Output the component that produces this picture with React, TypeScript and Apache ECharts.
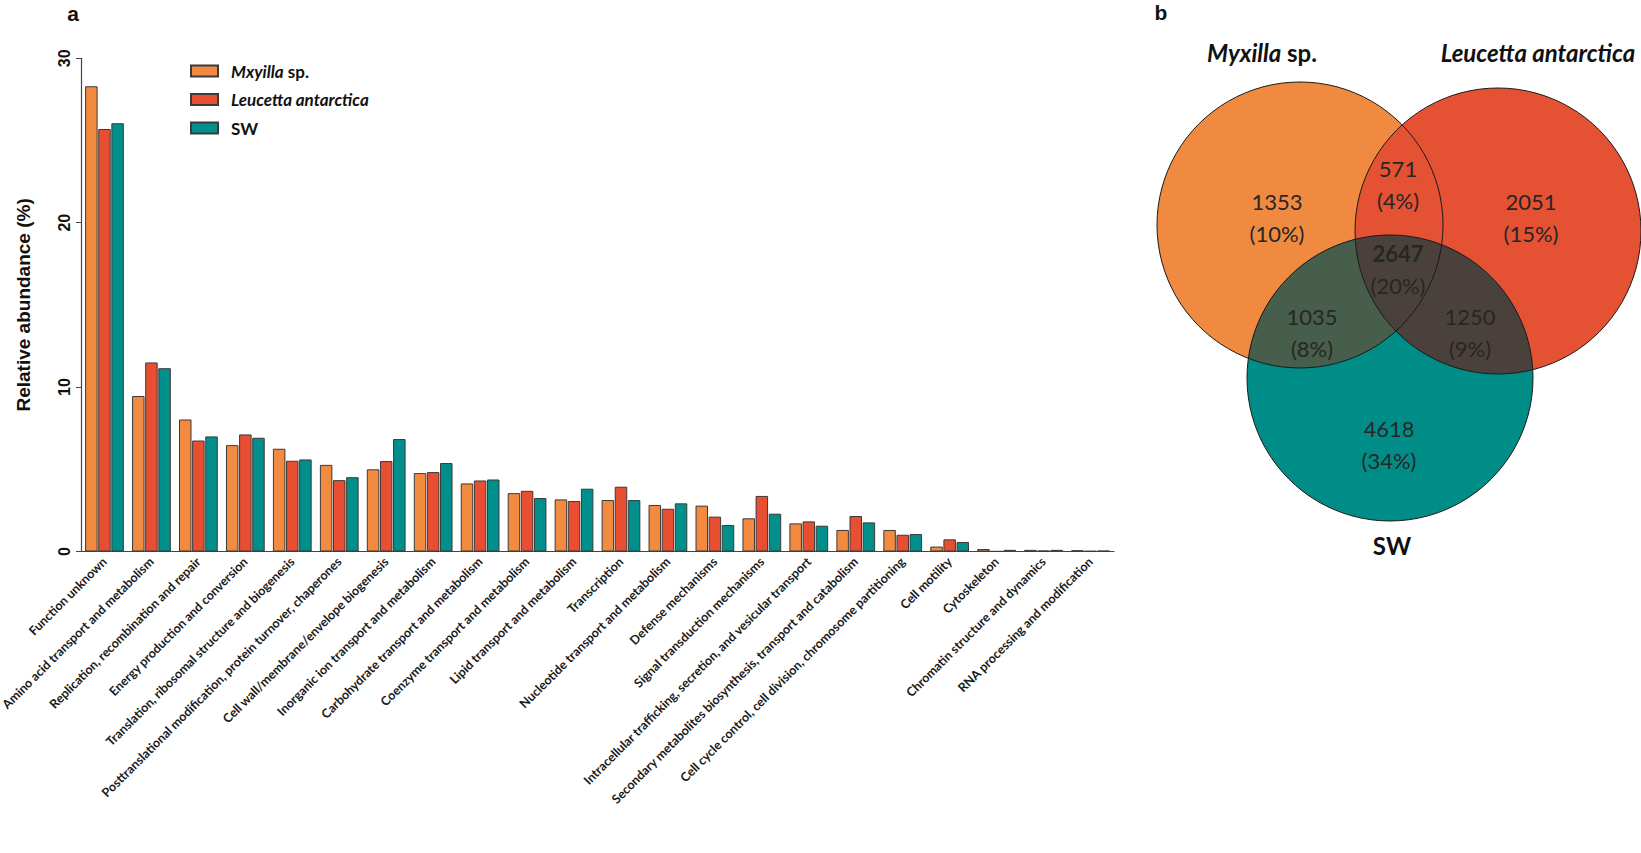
import React, { useEffect, useRef } from 'react';
import * as echarts from 'echarts';

// ---------- data ----------
const categories = [
  'Function unknown',
  'Amino acid transport and metabolism',
  'Replication, recombination and repair',
  'Energy production and conversion',
  'Translation, ribosomal structure and biogenesis',
  'Posttranslational modification, protein turnover, chaperones',
  'Cell wall/membrane/envelope biogenesis',
  'Inorganic ion transport and metabolism',
  'Carbohydrate transport and metabolism',
  'Coenzyme transport and metabolism',
  'Lipid transport and metabolism',
  'Transcription',
  'Nucleotide transport and metabolism',
  'Defense mechanisms',
  'Signal transduction mechanisms',
  'Intracellular trafficking, secretion, and vesicular transport',
  'Secondary metabolites biosynthesis, transport and catabolism',
  'Cell cycle control, cell division, chromosome partitioning',
  'Cell motility',
  'Cytoskeleton',
  'Chromatin structure and dynamics',
  'RNA processing and modification',
];

const seriesNames = ['Mxyilla sp.', 'Leucetta antarctica', 'SW'];

const mxyillaValues = [28.3, 9.46, 8.03, 6.47, 6.25, 5.27, 5.0, 4.77, 4.14, 3.55, 3.17, 3.13, 2.83, 2.79, 2.02, 1.71, 1.31, 1.31, 0.3, 0.15, 0.1, 0.08];
const leucettaValues = [25.7, 11.5, 6.75, 7.12, 5.52, 4.34, 5.5, 4.83, 4.32, 3.69, 3.07, 3.94, 2.6, 2.12, 3.38, 1.83, 2.16, 1.02, 0.74, 0.01, 0.06, 0.03];
const swValues = [26.05, 11.15, 7.0, 6.92, 5.6, 4.52, 6.84, 5.38, 4.38, 3.25, 3.82, 3.13, 2.93, 1.61, 2.3, 1.57, 1.77, 1.06, 0.58, 0.1, 0.1, 0.05];

const yMin = 0;
const yMax = 30;
const yInterval = 10;

const vennSetLabels = ['Myxilla sp.', 'Leucetta antarctica', 'SW'];
const vennCounts = [1353, 571, 2051, 2647, 1035, 1250, 4618];
const vennPercents = ['10%', '4%', '15%', '20%', '8%', '9%', '34%'];

// ---------- styling / layout ----------
const COLORS = ['#F28B40', '#E84E31', '#008F8A'];
const VENN_FILL = { orange: '#F08A40', red: '#E55133', teal: '#008D88', ot: '#465E4B', rt: '#4B413C' };
const VC = { orange: [1300, 225], red: [1498, 231], teal: [1390, 378] };
const VR = 143;
// label anchor points for the 7 regions, in the same order as vennCounts
const regionPos = [
  [1277, 217],
  [1398, 184],
  [1531, 217],
  [1398, 269],
  [1312, 332],
  [1470, 332],
  [1389, 444],
];

function lensPath(c1: number[], c2: number[], r1: number, r2: number) {
  const dx = c2[0] - c1[0];
  const dy = c2[1] - c1[1];
  const d = Math.hypot(dx, dy);
  const ux = dx / d;
  const uy = dy / d;
  const a = (d * d + r1 * r1 - r2 * r2) / (2 * d);
  const h = Math.sqrt(r1 * r1 - a * a);
  const mx = c1[0] + a * ux;
  const my = c1[1] + a * uy;
  const nx = -uy;
  const ny = ux;
  const px = mx + h * nx;
  const py = my + h * ny;
  const qx = mx - h * nx;
  const qy = my - h * ny;
  return `M${px} ${py} A${r1} ${r1} 0 0 0 ${qx} ${qy} A${r2} ${r2} 0 0 0 ${px} ${py} Z`;
}

echarts.graphic.registerShape('lensOT', echarts.graphic.extendPath(lensPath(VC.orange, VC.teal, VR, VR), {}));
echarts.graphic.registerShape('lensRT', echarts.graphic.extendPath(lensPath(VC.red, VC.teal, VR, VR), {}));

function buildOption() {
  const values = [mxyillaValues, leucettaValues, swValues];
  const series = seriesNames.map((name, i) => ({
    name,
    type: 'bar',
    data: values[i],
    barWidth: 12.5,
    barGap: '5%',
    itemStyle: { color: COLORS[i], borderColor: '#3a3a3a', borderWidth: 1 },
  }));

  const venn: any[] = [];
  venn.push({ type: 'circle', shape: { cx: VC.orange[0], cy: VC.orange[1], r: VR }, style: { fill: VENN_FILL.orange } });
  venn.push({ type: 'circle', shape: { cx: VC.red[0], cy: VC.red[1], r: VR }, style: { fill: VENN_FILL.red } });
  venn.push({ type: 'circle', shape: { cx: VC.teal[0], cy: VC.teal[1], r: VR }, style: { fill: VENN_FILL.teal } });
  venn.push({ type: 'lensOT', x: 0, y: 0, style: { fill: VENN_FILL.ot, stroke: null } });
  venn.push({ type: 'lensRT', x: 0, y: 0, style: { fill: VENN_FILL.rt, stroke: null } });
  [VC.orange, VC.red, VC.teal].forEach((c) => {
    venn.push({ type: 'circle', shape: { cx: c[0], cy: c[1], r: VR }, style: { fill: 'none', stroke: '#1a1a1a', lineWidth: 1 } });
  });
  vennCounts.forEach((cnt, i) => {
    const bold = i === 3;
    venn.push({
      type: 'text',
      x: regionPos[i][0],
      y: regionPos[i][1],
      style: {
        text: `{c|${cnt}}\n{p|(${vennPercents[i]})}`,
        align: 'center',
        verticalAlign: 'middle',
        rich: {
          c: { fontFamily: 'Lato', fontSize: 22, fontWeight: bold ? 'bold' : 'normal', fill: '#262626', lineHeight: 32, align: 'center' },
          p: { fontFamily: 'Lato', fontSize: 22, fill: '#262626', lineHeight: 32, align: 'center' },
        },
      },
    });
  });
  const labelRich = {
    i: { fontFamily: 'Lato', fontSize: 24, fontWeight: 'bold', fontStyle: 'italic', fill: '#111' },
    n: { fontFamily: 'Lato', fontSize: 24, fontWeight: 'bold', fill: '#111' },
  };
  venn.push({ type: 'text', x: 1262, y: 52, style: { text: '{i|Myxilla}{n| sp.}', align: 'center', verticalAlign: 'middle', rich: labelRich } });
  venn.push({ type: 'text', x: 1538, y: 52, style: { text: `{i|${vennSetLabels[1]}}`, align: 'center', verticalAlign: 'middle', rich: labelRich } });
  venn.push({ type: 'text', x: 1392, y: 545, style: { text: `{n|${vennSetLabels[2]}}`, align: 'center', verticalAlign: 'middle', rich: labelRich } });

  const panels = [
    { type: 'text', x: 73, y: 13, style: { text: 'a', fontFamily: 'Liberation Sans', fontWeight: 'bold', fontSize: 21, fill: '#111', align: 'center', verticalAlign: 'middle' } },
    { type: 'text', x: 1161, y: 12, style: { text: 'b', fontFamily: 'Liberation Sans', fontWeight: 'bold', fontSize: 21, fill: '#111', align: 'center', verticalAlign: 'middle' } },
  ];

  return {
    animation: false,
    backgroundColor: '#ffffff',
    textStyle: { fontFamily: 'Open Sans' },
    grid: { left: 81, top: 58.3, width: 1033, height: 493.2, containLabel: false, outerBoundsMode: 'none' },
    legend: {
      orient: 'vertical',
      left: 190,
      top: 62.5,
      padding: 0,
      itemWidth: 27,
      itemHeight: 11,
      itemGap: 11.5,
      icon: 'rect',
      data: seriesNames,
      formatter: (name: string) => {
        if (name === 'Mxyilla sp.') return '{i|Mxyilla}{n| sp.}';
        if (name === 'SW') return '{n|SW}';
        return `{i|${name}}`;
      },
      textStyle: {
        padding: [0, 0, 0, 8],
        rich: {
          i: { fontFamily: 'Lato', fontSize: 17, fontWeight: 'bold', fontStyle: 'italic', color: '#111', lineHeight: 18 },
          n: { fontFamily: 'Lato', fontSize: 17, fontWeight: 'bold', color: '#111', lineHeight: 18 },
        },
      },
    },
    xAxis: {
      type: 'category',
      data: categories,
      axisLine: { lineStyle: { color: '#444', width: 1.2 } },
      axisTick: { alignWithLabel: true, length: 5, lineStyle: { color: '#444' } },
      axisLabel: { interval: 0, rotate: 45, fontSize: 12.5, fontWeight: 'bold', color: '#1a1a1a', margin: 8, fontFamily: 'Lato' },
    },
    yAxis: {
      type: 'value',
      min: yMin,
      max: yMax,
      interval: yInterval,
      name: 'Relative abundance (%)',
      nameLocation: 'middle',
      nameGap: 48,
      nameTextStyle: { fontSize: 19, fontWeight: 'bold', fontFamily: 'Liberation Sans', color: '#111' },
      axisLine: { show: true, lineStyle: { color: '#444', width: 1.2 } },
      axisTick: { show: true, length: 5, lineStyle: { color: '#444' } },
      splitLine: { show: false },
      axisLabel: { rotate: 90, fontSize: 16, fontWeight: 'bold', color: '#111', margin: 9, fontFamily: 'Liberation Sans' },
    },
    series,
    graphic: [...panels, ...venn],
  };
}

export default function App() {
  const ref = useRef<HTMLDivElement>(null);
  useEffect(() => {
    if (!ref.current) return;
    const chart = echarts.init(ref.current, null, { renderer: 'svg' });
    chart.setOption(buildOption() as any);
    return () => chart.dispose();
  }, []);
  return (
    <div
      ref={ref}
      style={{ position: 'fixed', left: 0, top: 0, width: 1641, height: 853, background: '#fff' }}
    />
  );
}
